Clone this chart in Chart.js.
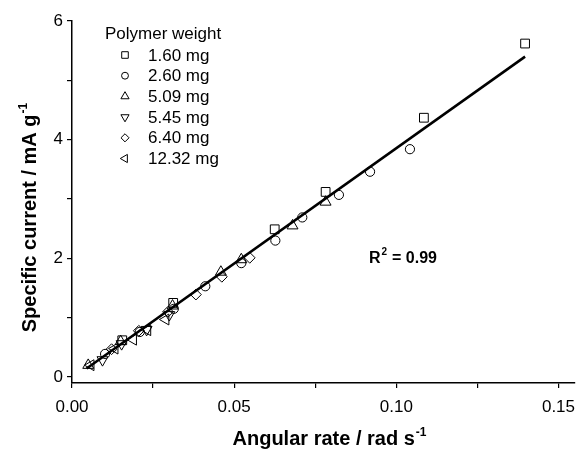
<!DOCTYPE html>
<html>
<head>
<meta charset="utf-8">
<script src="https://cdn.jsdelivr.net/npm/chart.js@4.4.0/dist/chart.umd.min.js"></script>
<style>html,body{margin:0;padding:0;background:#fff}</style>
</head>
<body>
<canvas id="myChart" width="582" height="452"></canvas>
<script>
// --- Data ---
const weights = ['1.60 mg', '2.60 mg', '5.09 mg', '5.45 mg', '6.40 mg', '12.32 mg']

const rate160 = [0.0155, 0.0312, 0.0625, 0.0782, 0.1085, 0.1397]
const cur160 = [0.62, 1.25, 2.49, 3.12, 4.37, 5.62]

const rate260 = [0.0102, 0.0209, 0.0314, 0.0411, 0.0522, 0.0627, 0.0710, 0.0823, 0.0919, 0.1042]
const cur260 = [0.39, 0.76, 1.15, 1.53, 1.92, 2.30, 2.69, 3.07, 3.46, 3.84]

const rate509 = [0.0050, 0.0150, 0.0310, 0.0459, 0.0522, 0.0680, 0.0782]
const cur509 = [0.20, 0.60, 1.20, 1.77, 1.98, 2.55, 2.95]

const rate545 = [0.0094, 0.0153, 0.0230, 0.0300]
const cur545 = [0.29, 0.56, 0.80, 1.05]

const rate640 = [0.0122, 0.0206, 0.0296, 0.0382, 0.0462, 0.0548]
const cur640 = [0.47, 0.78, 1.10, 1.39, 1.69, 2.01]

const rate1232 = [0.0058, 0.0132, 0.0189, 0.0233, 0.0289]
const cur1232 = [0.20, 0.48, 0.63, 0.79, 0.97]

// linear fit end points
const fitX = [0.0045, 0.1397]
const fitY = [0.145, 5.40]

const xTicks = [0, 0.025, 0.05, 0.075, 0.10, 0.125, 0.15]
const xLabels = ['0.00', '', '0.05', '', '0.10', '', '0.15']
const yTicks = [0, 1, 2, 3, 4, 5, 6]
const yLabels = ['0', '', '2', '', '4', '', '6']

// --- Helpers ---
function pts(xs, ys) {
    let out = []
    for (let i = 0; i < xs.length; i++) out.push({ x: xs[i], y: ys[i] })
    return out
}

const styles = [
    { pointStyle: 'rect', radius: 6.2, rotation: 0 },
    { pointStyle: 'circle', radius: 4.6, rotation: 0 },
    { pointStyle: 'triangle', radius: 6.3, rotation: 0 },
    { pointStyle: 'triangle', radius: 6.3, rotation: 180 },
    { pointStyle: 'rectRot', radius: 5.4, rotation: 0 },
    { pointStyle: 'triangle', radius: 6.3, rotation: -90 }
]
const series = [
    pts(rate160, cur160), pts(rate260, cur260), pts(rate509, cur509),
    pts(rate545, cur545), pts(rate640, cur640), pts(rate1232, cur1232)
]

let datasets = [{
    label: 'fit',
    data: pts(fitX, fitY),
    showLine: true,
    borderColor: '#000',
    borderWidth: 2.6,
    pointRadius: 0,
    order: 0
}]
for (let i = 0; i < series.length; i++) {
    datasets.push({
        label: weights[i],
        data: series[i],
        showLine: false,
        pointStyle: styles[i].pointStyle,
        pointRotation: styles[i].rotation,
        pointRadius: styles[i].radius,
        pointBorderWidth: 1,
        pointBorderColor: '#000',
        pointBackgroundColor: 'rgba(0,0,0,0)',
        order: 1
    })
}

const FONT = '"Liberation Sans", Arial, sans-serif'

// draw text with superscript part, centred on x
function supText(ctx, base, sup, x, y, size) {
    ctx.font = 'bold ' + size + 'px ' + FONT
    const w1 = ctx.measureText(base).width
    ctx.font = 'bold ' + Math.round(size * 0.6) + 'px ' + FONT
    const w2 = ctx.measureText(sup).width
    const start = x - (w1 + w2) / 2
    ctx.font = 'bold ' + size + 'px ' + FONT
    ctx.textAlign = 'left'
    ctx.fillText(base, start, y)
    ctx.font = 'bold ' + Math.round(size * 0.6) + 'px ' + FONT
    ctx.fillText(sup, start + w1 + 1, y - size * 0.45)
}

const extras = {
    id: 'extras',
    afterDraw(chart) {
        const ctx = chart.ctx
        ctx.save()
        ctx.fillStyle = '#000'
        ctx.textBaseline = 'alphabetic'

        // axis titles
        supText(ctx, 'Angular rate / rad s', '-1', 329, 445, 20)
        ctx.save()
        ctx.translate(36, 218)
        ctx.rotate(-Math.PI / 2)
        supText(ctx, 'Specific current / mA g', '-1', 0, 0, 20)
        ctx.restore()

        // R^2 label
        ctx.font = 'bold 16px ' + FONT
        ctx.textAlign = 'left'
        ctx.fillText('R', 369, 263)
        const rw = ctx.measureText('R').width
        ctx.font = 'bold 10px ' + FONT
        ctx.fillText('2', 369 + rw + 1, 255)
        ctx.font = 'bold 16px ' + FONT
        ctx.fillText(' = 0.99', 369 + rw + 7, 263)

        // legend
        ctx.font = '17px ' + FONT
        ctx.textBaseline = 'middle'
        ctx.fillText('Polymer weight', 105, 34)
        for (let i = 0; i < weights.length; i++) {
            const y = 55 + i * 20.7
            ctx.fillStyle = 'rgba(0,0,0,0)'
            ctx.strokeStyle = '#000'
            ctx.lineWidth = 1
            Chart.helpers.drawPoint(ctx, {
                pointStyle: styles[i].pointStyle,
                rotation: styles[i].rotation,
                radius: styles[i].radius * 0.75,
                borderWidth: 1
            }, 125, y)
            ctx.fillStyle = '#000'
            ctx.fillText(weights[i], 148, y + 1)
        }
        ctx.restore()
    }
}

// --- Chart ---
const ctx = document.getElementById('myChart').getContext('2d')
const myChart = new Chart(ctx, {
    type: 'scatter',
    data: { datasets: datasets },
    plugins: [extras],
    options: {
        responsive: false,
        animation: false,
        layout: { padding: { top: 21, right: 7, left: 0, bottom: 0 } },
        plugins: { legend: { display: false }, tooltip: { enabled: false } },
        scales: {
            x: {
                type: 'linear',
                min: 0,
                max: 0.155,
                afterBuildTicks: s => { s.ticks = xTicks.map(v => ({ value: v })) },
                afterFit: s => { s.height = 69; s.paddingRight = 0; s.paddingLeft = 0 },
                ticks: {
                    autoSkip: false,
                    maxRotation: 0,
                    padding: 9,
                    color: '#000',
                    font: { family: FONT, size: 17 },
                    callback: (v, i) => xLabels[i]
                },
                grid: { drawOnChartArea: false, drawTicks: true, tickLength: 5, color: '#000', lineWidth: 1.2 },
                border: { display: true, color: '#000', width: 1.5 }
            },
            y: {
                type: 'linear',
                min: -0.1,
                max: 6,
                afterBuildTicks: s => { s.ticks = yTicks.map(v => ({ value: v })) },
                afterFit: s => { s.width = 72 },
                ticks: {
                    autoSkip: false,
                    padding: 4,
                    color: '#000',
                    font: { family: FONT, size: 17 },
                    callback: (v, i) => yLabels[i]
                },
                grid: { drawOnChartArea: false, drawTicks: true, tickLength: 5, color: '#000', lineWidth: 1.2 },
                border: { display: true, color: '#000', width: 1.5 }
            }
        }
    }
})
</script>
</body>
</html>
